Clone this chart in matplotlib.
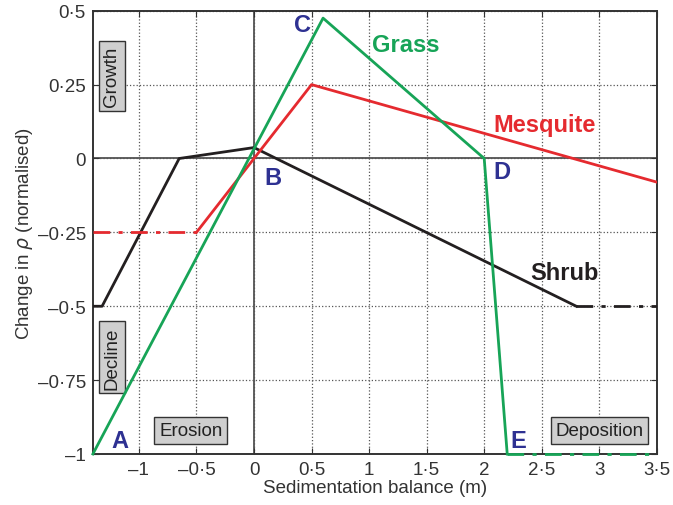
import matplotlib
matplotlib.use("Agg")
import matplotlib.pyplot as plt
from matplotlib.ticker import FixedLocator, FuncFormatter

plt.rcParams['font.family'] = ['Liberation Sans', 'DejaVu Sans']

# Data
grass_x = [-1.4, 0.6, 2.0, 2.2]
grass_y = [-1.0, 0.475, 0.0, -1.0]
grass_dash_x = [2.2, 3.5]
grass_dash_y = [-1.0, -1.0]

mesq_x = [-0.5, 0.5, 3.5]
mesq_y = [-0.25, 0.25, -0.08]
mesq_dash_x = [-1.4, -0.5]
mesq_dash_y = [-0.25, -0.25]

shrub_x = [-1.4, -1.32, -0.65, 0.0, 2.8]
shrub_y = [-0.5, -0.5, 0.0, 0.037, -0.5]
shrub_dash_x = [2.8, 3.5]
shrub_dash_y = [-0.5, -0.5]

xticks = [-1, -0.5, 0, 0.5, 1, 1.5, 2, 2.5, 3, 3.5]
yticks = [-1, -0.75, -0.5, -0.25, 0, 0.25, 0.5]

point_labels = ['A', 'B', 'C', 'D', 'E']
point_x = [-1.24, 0.09, 0.35, 2.08, 2.23]
point_y = [-0.955, -0.065, 0.455, -0.045, -0.955]

green = '#17a457'
red = '#e52a2f'
black = '#231f20'
blue = '#2e3192'

fig = plt.figure(figsize=(6.73, 5.06), dpi=100)
ax = fig.add_axes([0.138, 0.1008, 0.838, 0.876])
ax.set_xlim(-1.4, 3.5)
ax.set_ylim(-1, 0.5)

ax.xaxis.set_major_locator(FixedLocator(xticks))
ax.yaxis.set_major_locator(FixedLocator(yticks))

def fmt(v, pos=None):
    if abs(v - round(v)) < 1e-9:
        s = str(int(round(v)))
    else:
        s = ('%g' % v).replace('.', '\u00b7')
    return s.replace('-', '\u2013')

ax.xaxis.set_major_formatter(FuncFormatter(fmt))
ax.yaxis.set_major_formatter(FuncFormatter(fmt))

ax.grid(True, linestyle=':', color='#555555', linewidth=0.9)
ax.tick_params(direction='in', length=4, top=True, right=True, labelsize=13.5, colors='#333333', pad=5)
for sp in ax.spines.values():
    sp.set_linewidth(1.4)
    sp.set_color('#333333')

ax.axhline(0, color='#444444', linewidth=1.2, zorder=1)
ax.axvline(0, color='#444444', linewidth=1.2, zorder=1)

lw = 2.0
dd = (0, (6, 3, 1.5, 3))
ax.plot(shrub_x, shrub_y, color=black, lw=lw, zorder=3)
ax.plot(shrub_dash_x, shrub_dash_y, color=black, lw=lw, ls=dd, zorder=3)
ax.plot(mesq_x, mesq_y, color=red, lw=lw, zorder=3)
ax.plot(mesq_dash_x, mesq_dash_y, color=red, lw=lw, ls=dd, zorder=3)
ax.plot(grass_x, grass_y, color=green, lw=lw, zorder=4, clip_on=False)
ax.plot(grass_dash_x, grass_dash_y, color=green, lw=lw, ls=dd, zorder=4, clip_on=False)

ax.text(1.32, 0.385, 'Grass', color=green, fontsize=17, fontweight='bold', ha='center', va='center')
ax.text(2.08, 0.115, 'Mesquite', color=red, fontsize=17, fontweight='bold', ha='left', va='center')
ax.text(2.4, -0.385, 'Shrub', color=black, fontsize=17, fontweight='bold', ha='left', va='center')

for lab, px, py in zip(point_labels, point_x, point_y):
    ax.text(px, py, lab, color=blue, fontsize=17, fontweight='bold', ha='left', va='center')

box = dict(boxstyle='square,pad=0.25', facecolor='#cfcfcf', edgecolor='#333333', linewidth=1.0)
ax.text(-1.235, 0.28, 'Growth', rotation=90, fontsize=13.5, ha='center', va='center', bbox=box, color='#222222')
ax.text(-1.235, -0.673, 'Decline', rotation=90, fontsize=13.5, ha='center', va='center', bbox=box, color='#222222')
ax.text(-0.55, -0.92, 'Erosion', fontsize=13.5, ha='center', va='center', bbox=box, color='#222222')
ax.text(3.0, -0.92, 'Deposition', fontsize=13.5, ha='center', va='center', bbox=box, color='#222222')

ax.set_xlabel('Sedimentation balance (m)', fontsize=13.5, labelpad=1, color='#333333')
ax.set_ylabel(r'Change in $\rho$ (normalised)', fontsize=13.5, labelpad=2, color='#333333')

fig.savefig('out.png', dpi=100)
